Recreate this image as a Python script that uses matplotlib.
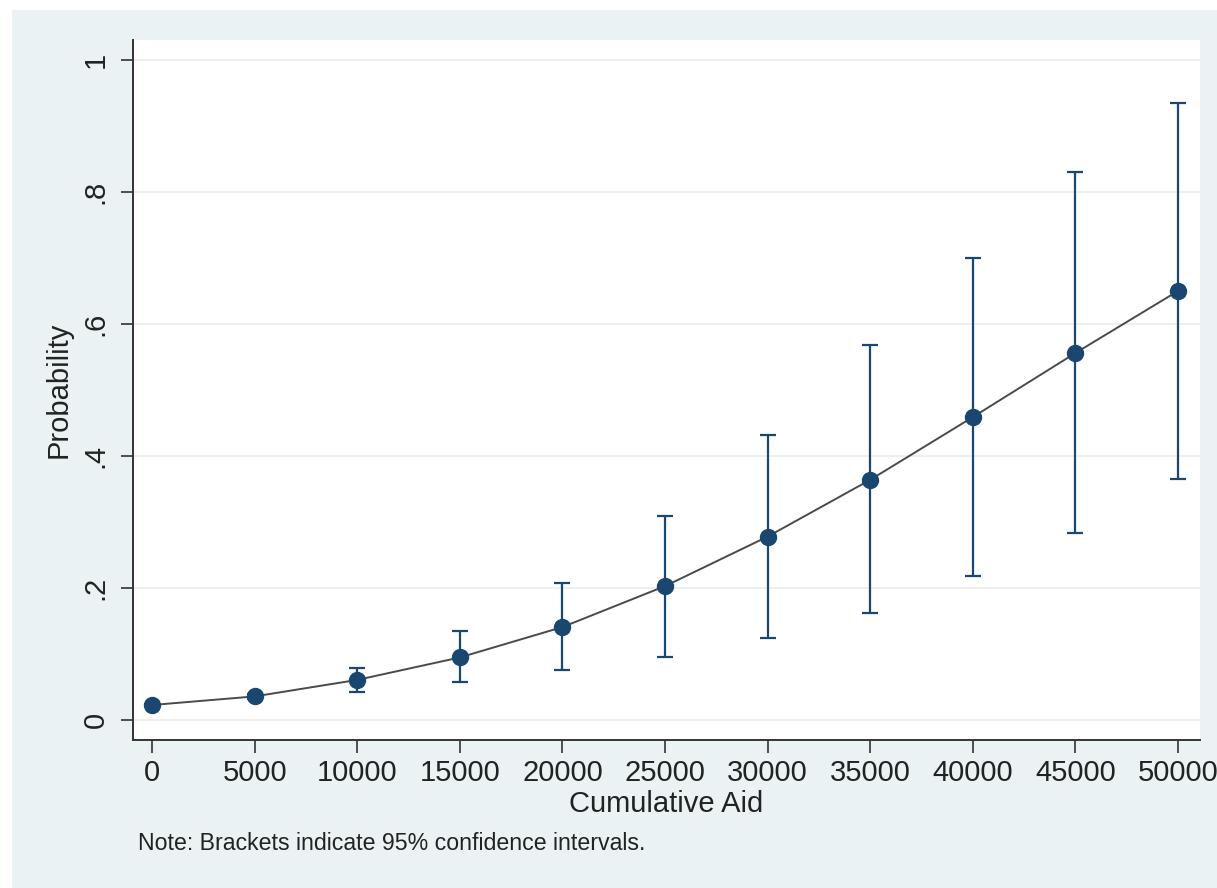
import matplotlib.pyplot as plt
from matplotlib.patches import Rectangle

# values
aid = [0, 5000, 10000, 15000, 20000, 25000, 30000, 35000, 40000, 45000, 50000]
prob = [0.023, 0.036, 0.061, 0.095, 0.141, 0.203, 0.278, 0.364, 0.459, 0.556, 0.650]
ci_low = [0.021, 0.032, 0.042, 0.058, 0.076, 0.095, 0.124, 0.162, 0.218, 0.284, 0.365]
ci_high = [0.025, 0.040, 0.079, 0.135, 0.208, 0.309, 0.432, 0.568, 0.700, 0.830, 0.935]
x_ticks = [0, 5000, 10000, 15000, 20000, 25000, 30000, 35000, 40000, 45000, 50000]
y_ticks = [0, 0.2, 0.4, 0.6, 0.8, 1.0]
y_labels = ['0', '.2', '.4', '.6', '.8', '1']

navy = '#1a476f'
bg = '#eaf2f3'

plt.rcParams['font.family'] = ['Liberation Sans', 'DejaVu Sans']

W, H = 1217, 888
fig = plt.figure(figsize=(W / 100, H / 100), dpi=100, facecolor='white')
# stata style outer region, behind the axes
fig.add_artist(Rectangle((12 / W, 0), 1 - 12 / W, 1 - 10 / H,
                         transform=fig.transFigure, facecolor=bg,
                         edgecolor='none', zorder=-10))

ax = fig.add_axes([133 / W, (H - 740) / H, (1200 - 133) / W, (740 - 40) / H])
ax.set_zorder(1)
ax.set_facecolor('white')

err_lo = [p - l for p, l in zip(prob, ci_low)]
err_hi = [h - p for p, h in zip(prob, ci_high)]
ax.errorbar(aid, prob, yerr=[err_lo, err_hi], fmt='none', ecolor=navy,
            elinewidth=1.6, capsize=5.8, capthick=1.6, zorder=3)
ax.plot(aid, prob, color='#4a4a4a', linewidth=1.4, zorder=4)
ax.plot(aid, prob, 'o', color=navy, markersize=11.5, zorder=5)

ax.set_xlim(-926, 51070)
ax.set_ylim(-0.03, 1.03)
ax.set_xticks(x_ticks)
ax.set_xticklabels([str(v) for v in x_ticks])
ax.set_yticks(y_ticks)
ax.set_yticklabels(y_labels, rotation=90, va='center')
ax.grid(axis='y', color='#ececec', linewidth=1.2, zorder=0)
ax.set_axisbelow(True)

for s in ['top', 'right']:
    ax.spines[s].set_visible(False)
for s in ['left', 'bottom']:
    ax.spines[s].set_color('#333333')
    ax.spines[s].set_linewidth(1.4)

ax.tick_params(axis='x', length=9, width=1.2, color='#333333',
               labelsize=21, labelcolor='#222222', pad=5)
ax.tick_params(axis='y', length=9, width=1.2, color='#333333',
               labelsize=21, labelcolor='#222222', pad=8)

ax.set_xlabel('Cumulative Aid', fontsize=21, color='#222222', labelpad=2)
ax.set_ylabel('Probability', fontsize=21, color='#222222', labelpad=6)

fig.text(138 / W, 1 - 843 / H, 'Note: Brackets indicate 95% confidence intervals.',
         fontsize=16.7, color='#222222', va='center', ha='left', zorder=2)

fig.savefig('out.png', dpi=100, facecolor=fig.get_facecolor())
